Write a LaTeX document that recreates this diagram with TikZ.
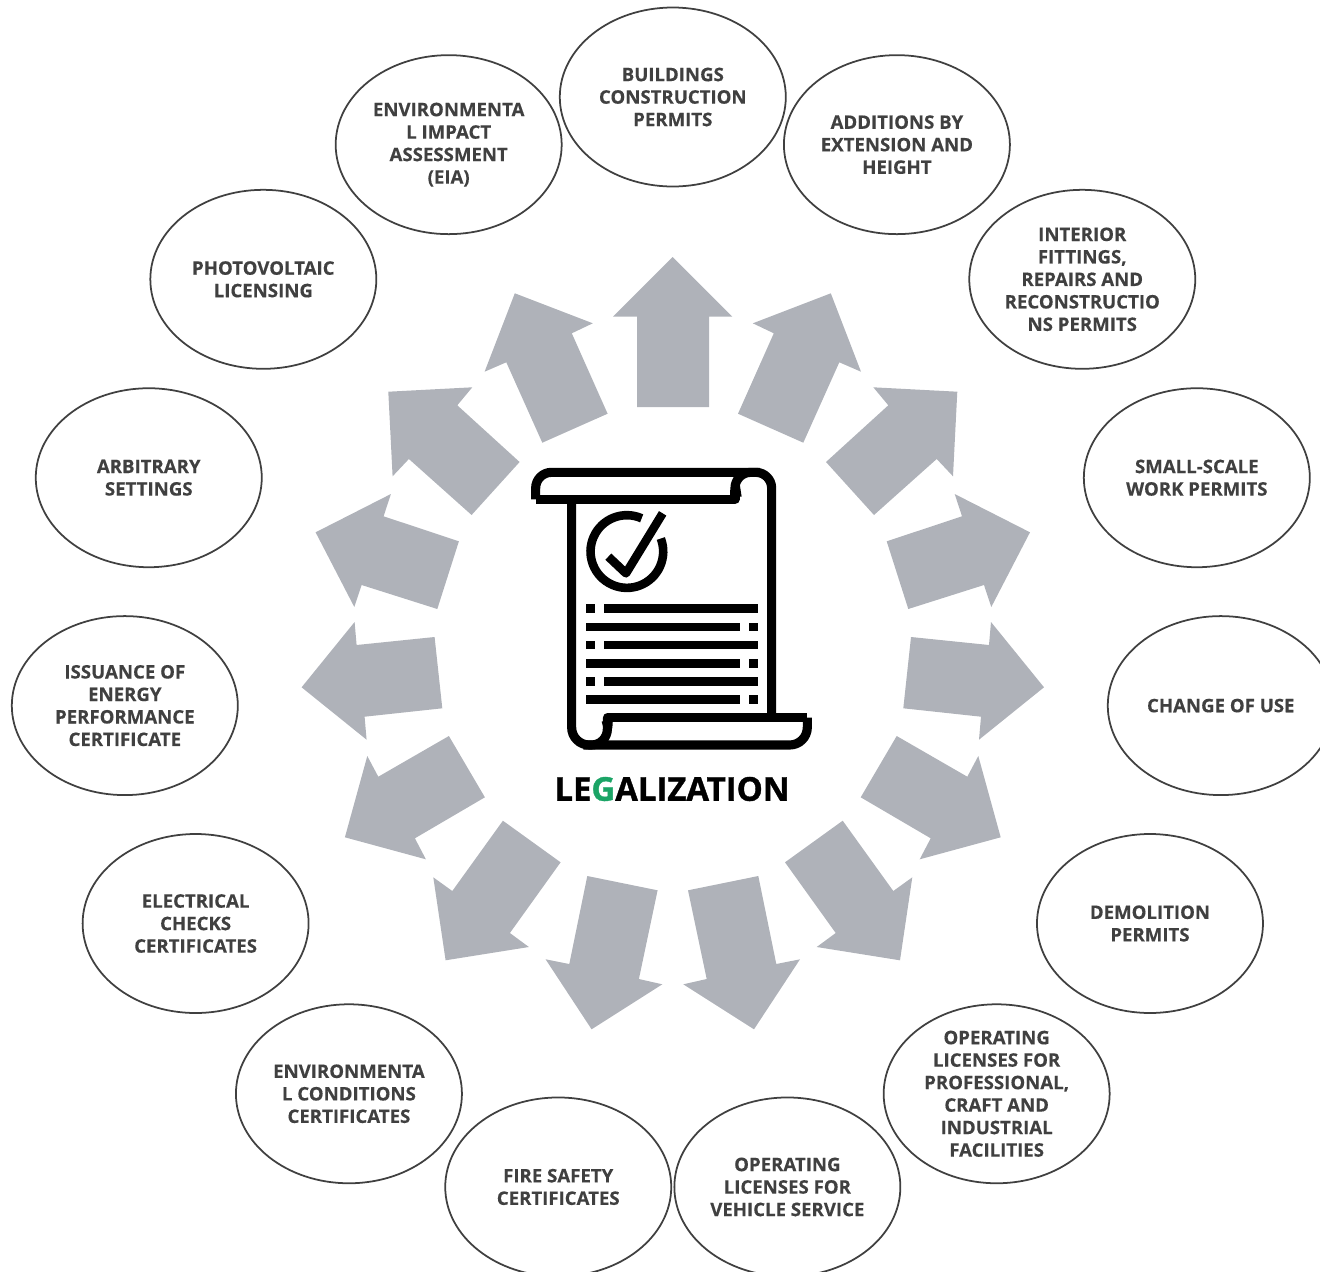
\documentclass[tikz,border=0pt]{standalone}
\usepackage{fontspec}
\setmainfont[BoldFeatures={FakeBold=0.35}]{Open Sans}
\newfontfamily\legalfont[BoldFeatures={FakeBold=1.1}]{Open Sans}
\usetikzlibrary{shapes.geometric}
\definecolor{ringgray}{HTML}{AFB2B9}
\definecolor{permitgray}{HTML}{404040}
\definecolor{legalgreen}{HTML}{1BA466}
\tikzset{
	permit/.style={draw=permitgray, line width=1pt, ellipse, minimum width=226\ringpx, minimum height=179\ringpx, inner sep=0pt, align=center, text=permitgray, font=\fontsize{10.6}{12.8}\selectfont\bfseries},
	ringarrow/.style={fill=ringgray},
	scrollline/.style={draw=black, line width=5.2pt, line join=round},
	scrollmark/.style={fill=black}
}
\newlength{\ringpx}
\setlength{\ringpx}{0.02cm}
\begin{document}
\begin{tikzpicture}[x=0.02cm, y=-0.02cm]
	\clip (0,0) rectangle (1320,1272);
	% ring of arrows, right half mirrored to the left
	\fill[ringarrow] (672.7,257) -- (732.3,316.7) -- (709,316.7) -- (709,407) -- (637,407) -- (637,316.7) -- (613,316.7) -- cycle;
	\foreach \flip in {1,-1} {
		\begin{scope}[shift={(672.8,0)}, xscale=\flip]
			\fill[ringarrow] (158,293.3) -- (80,323.3) -- (101,333.3) -- (65.2,413.7) -- (130.5,442.7) -- (166.5,362.3) -- (188.2,371.7) -- cycle;
			\fill[ringarrow] (284.5,391.7) -- (200.5,387.3) -- (215.5,405.3) -- (153.2,462) -- (201.2,515) -- (263.9,459) -- (280.2,476.3) -- cycle;
			\fill[ringarrow] (357.2,532.3) -- (281.9,494) -- (289.2,516.3) -- (213.9,541.3) -- (235.5,609) -- (311.2,585) -- (318.5,607) -- cycle;
			\fill[ringarrow] (371.2,687.3) -- (318.2,622) -- (316.2,645) -- (238.2,637) -- (230.5,708.3) -- (308.2,716.7) -- (306.2,739.7) -- cycle;
			\fill[ringarrow] (327.9,837.3) -- (305.5,756) -- (294.5,776.7) -- (223.9,736) -- (187.9,797.3) -- (257.9,838.3) -- (246.9,859.3) -- cycle;
			\fill[ringarrow] (227.2,960.3) -- (239.5,877.3) -- (220.5,891) -- (169.9,820.7) -- (112.2,862.3) -- (162.9,933) -- (143.9,947) -- cycle;
			\fill[ringarrow] (81.2,1029.3) -- (127.2,959.3) -- (103.5,964) -- (85.5,876) -- (15.2,890.3) -- (33.9,979) -- (10.5,984.3) -- cycle;
		\end{scope}
	}
	% permits around the ring
	\foreach \ang/\permitname/\permittext in {
		0/buildings/{BUILDINGS\\CONSTRUCTION\\PERMITS},
		24/additions/{ADDITIONS BY\\EXTENSION AND\\HEIGHT},
		48/interior/{INTERIOR\\FITTINGS,\\REPAIRS AND\\RECONSTRUCTIO\\NS PERMITS},
		72/smallscale/{SMALL-SCALE\\WORK PERMITS},
		96/changeuse/{CHANGE OF USE},
		120/demolition/{DEMOLITION\\PERMITS},
		144/licenses/{OPERATING\\LICENSES FOR\\PROFESSIONAL,\\CRAFT AND\\INDUSTRIAL\\FACILITIES},
		168/vehicle/{OPERATING\\LICENSES FOR\\VEHICLE SERVICE},
		192/fire/{FIRE SAFETY\\CERTIFICATES},
		216/conditions/{ENVIRONMENTA\\L CONDITIONS\\CERTIFICATES},
		240/electrical/{ELECTRICAL\\CHECKS\\CERTIFICATES},
		264/energy/{ISSUANCE OF\\ENERGY\\PERFORMANCE\\CERTIFICATE},
		288/arbitrary/{ARBITRARY\\SETTINGS},
		312/photovoltaic/{PHOTOVOLTAIC\\LICENSING},
		336/eia/{ENVIRONMENTA\\L IMPACT\\ASSESSMENT\\(EIA)}} {
		\node[permit] (\permitname) at ({672.8+551*sin(\ang)},{648-551*cos(\ang)}) {\permittext};
	}
	% scroll icon
	\begin{scope}[shift={(520,455)}, x=0.02cm/3, y=-0.02cm/3]
		\draw[scrollline, rounded corners=9pt] (47,133) -- (47,52) -- (755,52) -- (755,788);
		\draw[scrollline] (47,133) -- (645,133) -- (645,105);
		\draw[scrollline, rounded corners=9pt] (645,133) -- (645,52) -- (720,52);
		\draw[scrollline, rounded corners=10pt] (155,133) -- (155,870) -- (862,870) -- (862,788);
		\draw[scrollline] (862,788) -- (262,788) -- (262,800);
		\draw[scrollline, rounded corners=9pt] (262,788) -- (262,870) -- (190,870);
		\fill[scrollmark] (632,125) .. controls (630,95) and (638,75) .. (655,60) -- (665,125) -- cycle;
		\fill[scrollmark] (278,790) .. controls (280,820) and (272,842) .. (262,860) -- (245,800) -- cycle;
		\draw[line width=4.9pt] (365,190) arc[start angle=66, end angle=381, radius=109*0.02cm/3];
		\draw[line width=4.9pt, line join=round] (265,305) -- (318,355) -- (428,175);
		\foreach \rowy in {461,570,679} {
			\fill[scrollmark] (197,\rowy-13) rectangle (224,\rowy+13);
			\fill[scrollmark] (251,\rowy-13) rectangle (714,\rowy+13);
		}
		\foreach \rowy in {516,625,734} {
			\fill[scrollmark] (197,\rowy-13) rectangle (659,\rowy+13);
			\fill[scrollmark] (686,\rowy-13) rectangle (714,\rowy+13);
		}
	\end{scope}
	\node[font=\fontsize{18.7}{23}\selectfont\legalfont\bfseries, inner sep=0pt] (legalization) at (672,789) {LE{\color{legalgreen}G}ALIZATION};
\end{tikzpicture}
\end{document}
